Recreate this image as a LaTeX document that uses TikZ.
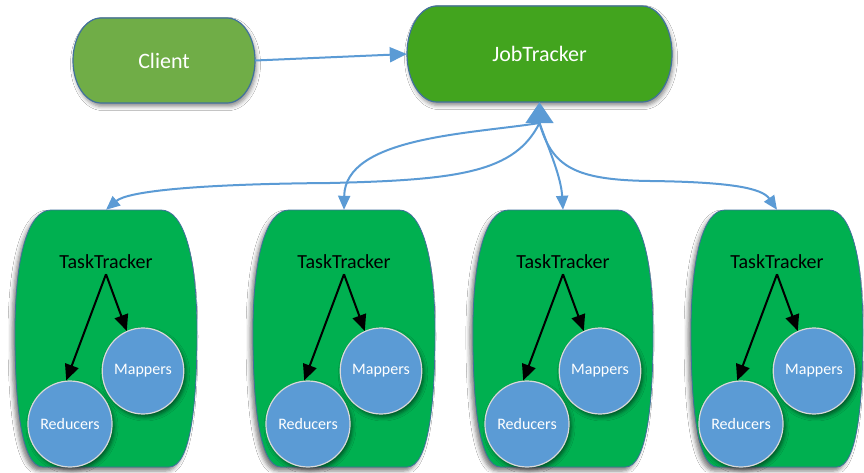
\documentclass[tikz,border=0pt]{standalone}
\usepackage{fontspec}
\setmainfont{Carlito}
\usetikzlibrary{arrows.meta,shapes.geometric,shadows.blur}

\definecolor{clientgreen}{HTML}{70AD47}
\definecolor{jobgreen}{HTML}{42A41E}
\definecolor{taskgreen}{HTML}{00B050}
\definecolor{edgeblue}{HTML}{41719C}
\definecolor{linkblue}{HTML}{5B9BD5}
\definecolor{workerblue}{HTML}{5B9BD5}
\definecolor{rimgray}{HTML}{D9D9D9}

\tikzset{
  hubtext/.style={inner sep=0pt, text=white, font=\fontsize{22}{26}\selectfont},
  hubshadow/.style={blur shadow={shadow xshift=1.5pt, shadow yshift=-3.5pt, shadow blur radius=4pt, shadow opacity=45}},
  boxframe/.style={inner sep=0pt, minimum height=257pt},
  tasklabel/.style={inner sep=1pt, text=black, font=\fontsize{20}{24}\selectfont},
  worker/.style={ellipse, inner sep=0pt, minimum width=74pt, minimum height=86pt,
    fill=workerblue, draw=rimgray, line width=1.2pt, text=white,
    font=\fontsize{16}{19}\selectfont,
    blur shadow={shadow xshift=2pt, shadow yshift=-3pt, shadow blur radius=4pt, shadow opacity=55}},
  link/.style={draw=linkblue, line width=2pt, -{Triangle[length=14pt,width=12pt]}},
  blackarrow/.style={draw=black, line width=2pt, -{Triangle[length=16pt,width=14pt]}}
}

% one TaskTracker unit: #1 index, #2 centre x, #3 horizontal scale
\newcommand\taskunit[3]{%
  \begin{scope}[shift={(#2,0)}, xscale=#3]
    \fill[taskgreen, draw=edgeblue, line width=0.8pt,
      blur shadow={shadow xshift=-3pt, shadow yshift=-4pt, shadow blur radius=4pt, shadow opacity=50}]
      (-55,262) -- (55,262) .. controls (78,262) and (91,215) .. (91,140)
      .. controls (91,70) and (85,5) .. (63,5) -- (-63,5)
      .. controls (-85,5) and (-91,70) .. (-91,140)
      .. controls (-91,215) and (-78,262) .. cycle;
  \end{scope}
  \node[boxframe, minimum width=#3*182pt] (tt#1) at (#2,133.5) {};
  \node[tasklabel] (t#1) at (#2,210) {TaskTracker};
  \node[worker] (m#1) at (#2+37,101) {Mappers};
  \node[worker] (r#1) at (#2-36,48) {Reducers};
  \draw[blackarrow] ([yshift=-4pt]t#1.south) -- (m#1.112);
  \draw[blackarrow] ([yshift=-4pt]t#1.south) -- (r#1.95);
}

\begin{document}
\begin{tikzpicture}[x=1pt,y=1pt]
  \useasboundingbox (0,0) rectangle (864,472);
  \fill[white] (0,0) rectangle (864,472);

  % Client
  \fill[clientgreen, draw=edgeblue, line width=1.2pt, hubshadow]
    (101,454) -- (227,454) arc[start angle=90, end angle=-90, x radius=28, y radius=42.5]
    -- (101,369) arc[start angle=270, end angle=90, x radius=28, y radius=42.5] -- cycle;
  \node[hubtext, minimum width=182pt, minimum height=85pt] (client) at (164,411.5) {Client};

  % JobTracker
  \fill[jobgreen, draw=edgeblue, line width=1.2pt, hubshadow]
    (437,466) -- (642,466) arc[start angle=90, end angle=-90, x radius=30, y radius=48]
    -- (437,370) arc[start angle=270, end angle=90, x radius=30, y radius=48] -- cycle;
  \node[hubtext, minimum width=265pt, minimum height=96pt] (job) at (539.5,418) {JobTracker};

  \draw[draw=linkblue, line width=2pt, -{Triangle[length=17pt,width=15pt]}] (client.east) -- (job.west);

  % TaskTracker units
  \taskunit{1}{106}{1}
  \taskunit{2}{344}{1}
  \taskunit{3}{563}{0.99}
  \taskunit{4}{777}{0.945}

  % links between the JobTracker and the TaskTrackers
  \coordinate (hub) at (539.5,349);
  \draw[draw=linkblue, line width=2pt, -{Triangle[length=21pt,width=28pt]}] (hub) -- (job.south);
  \draw[link] (hub) .. controls (470,338) and (345,335) .. (tt2.north);
  \draw[link] (hub) .. controls (515,300) and (460,292) .. (330,289)
    .. controls (200,288) and (128,281) .. (tt1.north);
  \draw[link] (hub) .. controls (550,320) and (561,295) .. (tt3.north);
  \draw[link] (hub) .. controls (552,305) and (575,292) .. (650,291)
    .. controls (730,290) and (762,284) .. (tt4.north);
\end{tikzpicture}
\end{document}
